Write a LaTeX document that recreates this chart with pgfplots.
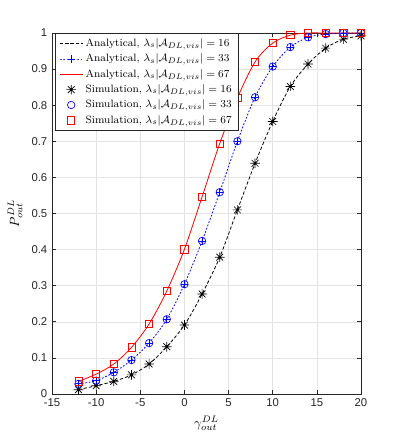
\documentclass[border=0pt]{standalone}
\usepackage{fontspec}
\usepackage{pgfplots}
\usepackage{pgfplotstable}
\pgfplotsset{compat=1.18}
\newfontfamily\ticksf{Liberation Sans}
\definecolor{axgray}{RGB}{38,38,38}
\definecolor{mblue}{RGB}{0,0,255}
\definecolor{mred}{RGB}{255,0,0}

% MATLAB-like '*' marker: plus and cross, with a small dot
\pgfdeclareplotmark{mstar}{%
  \pgfpathmoveto{\pgfqpoint{-\pgfplotmarksize}{0pt}}\pgfpathlineto{\pgfqpoint{\pgfplotmarksize}{0pt}}%
  \pgfpathmoveto{\pgfqpoint{0pt}{-\pgfplotmarksize}}\pgfpathlineto{\pgfqpoint{0pt}{\pgfplotmarksize}}%
  \pgfpathmoveto{\pgfqpoint{-0.707\pgfplotmarksize}{-0.707\pgfplotmarksize}}\pgfpathlineto{\pgfqpoint{0.707\pgfplotmarksize}{0.707\pgfplotmarksize}}%
  \pgfpathmoveto{\pgfqpoint{-0.707\pgfplotmarksize}{0.707\pgfplotmarksize}}\pgfpathlineto{\pgfqpoint{0.707\pgfplotmarksize}{-0.707\pgfplotmarksize}}%
  \pgfusepathqstroke
  \pgfpathcircle{\pgfpointorigin}{0.9pt}\pgfusepathqfill
}

% gamma, lambda=67, lambda=33, lambda=16
\pgfplotstableread{
x     r67    b33    k16
-12   0.035  0.028  0.012
-10   0.055  0.037  0.023
-8    0.083  0.060  0.035
-6    0.129  0.094  0.053
-4    0.194  0.141  0.083
-2    0.285  0.207  0.131
0     0.401  0.304  0.191
2     0.546  0.424  0.277
4     0.694  0.559  0.379
6     0.820  0.700  0.510
8     0.920  0.822  0.639
10    0.972  0.907  0.755
12    0.994  0.961  0.852
14    1.000  0.988  0.914
16    1.000  0.997  0.958
18    1.000  1.000  0.983
20    1.000  1.000  0.992
}\outage

\begin{document}
\begin{tikzpicture}
\begin{axis}[
    scale only axis,
    width=231.75pt, height=270.75pt,
    xmin=-15, xmax=20, ymin=0, ymax=1,
    xtick={-15,-10,-5,0,5,10,15,20},
    ytick={0,0.1,0.2,0.3,0.4,0.5,0.6,0.7,0.8,0.9,1},
    grid=major,
    grid style={gray!22, line width=0.4pt},
    axis line style={axgray, line width=0.5pt},
    tick style={axgray, line width=0.5pt},
    major tick length=3pt,
    tick label style={font=\ticksf\fontsize{8.5}{10}\selectfont, text=axgray},
    /pgf/number format/assume math mode=true,
    yticklabel style={/pgf/number format/fixed},
    xlabel={$\gamma_{out}^{DL}$},
    ylabel={$P_{out}^{DL}$},
    label style={font=\normalsize},
    legend style={at={(0.01,1)}, anchor=north west,
        font=\fontsize{8}{9.5}\selectfont, line width=0.5pt,
        cells={anchor=west}, row sep=0pt},
    every axis legend/.append style={draw=axgray},
]
\addplot[color=black, draw=black, line width=0.6pt, dash pattern=on 2.5pt off 1.5pt, smooth] table[x=x, y=k16] {\outage};
\addlegendentry{Analytical, $\lambda_s|\mathcal{A}_{DL,vis}| = 16$}
\addplot[color=mblue, draw=mblue, line width=0.6pt, dash pattern=on 1.3pt off 1.3pt, smooth,
    mark=+, mark size=2.7pt, mark options={solid, draw=mblue}] table[x=x, y=b33] {\outage};
\addlegendentry{Analytical, $\lambda_s|\mathcal{A}_{DL,vis}| = 33$}
\addplot[color=mred, draw=mred, line width=0.6pt, smooth] table[x=x, y=r67] {\outage};
\addlegendentry{Analytical, $\lambda_s|\mathcal{A}_{DL,vis}| = 67$}
\addplot[color=black, draw=black, only marks, mark=mstar, mark size=3.6pt, line width=0.5pt] table[x=x, y=k16] {\outage};
\addlegendentry{Simulation, $\lambda_s|\mathcal{A}_{DL,vis}| = 16$}
\addplot[color=mblue, draw=mblue, only marks, mark=o, mark size=2.8pt, line width=0.5pt] table[x=x, y=b33] {\outage};
\addlegendentry{Simulation, $\lambda_s|\mathcal{A}_{DL,vis}| = 33$}
\addplot[color=mred, draw=mred, only marks, mark=square, mark size=2.7pt, line width=0.5pt] table[x=x, y=r67] {\outage};
\addlegendentry{Simulation, $\lambda_s|\mathcal{A}_{DL,vis}| = 67$}
\end{axis}
\path ([xshift=-39pt,yshift=-36.75pt]current axis.south west) rectangle ([xshift=28.5pt,yshift=24.75pt]current axis.north east);
\end{tikzpicture}
\end{document}
